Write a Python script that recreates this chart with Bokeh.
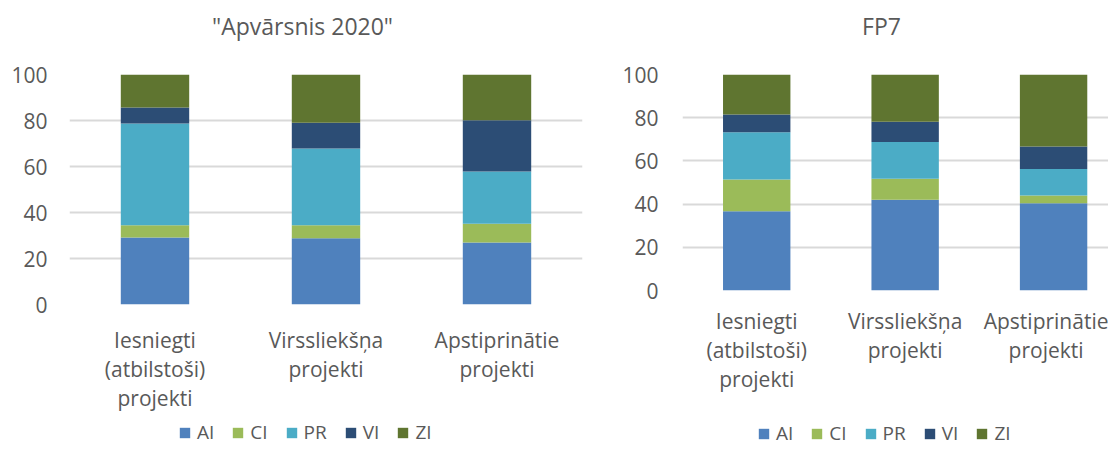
from bokeh.plotting import figure
from bokeh.models import ColumnDataSource, Range1d, FixedTicker, Label, Legend, LegendItem
from bokeh.layouts import row, column
from bokeh.embed import file_html
from bokeh.resources import INLINE

categories = ["Iesniegti\n(atbilstoši)\nprojekti", "Virssliekšņa\nprojekti", "Apstiprinātie\nprojekti"]
series = ["AI", "CI", "PR", "VI", "ZI"]
colors = ["#4F81BD", "#9BBB59", "#4BACC6", "#2C4D75", "#5F7530"]

h2020_AI = [29.1, 28.8, 27.0]
h2020_CI = [5.4, 5.7, 8.1]
h2020_PR = [44.2, 33.3, 22.7]
h2020_VI = [6.9, 11.2, 22.3]
h2020_ZI = [14.4, 21.0, 19.9]

fp7_AI = [36.7, 42.0, 40.4]
fp7_CI = [14.7, 9.7, 3.6]
fp7_PR = [21.9, 17.1, 12.3]
fp7_VI = [8.2, 9.3, 10.4]
fp7_ZI = [18.5, 21.9, 33.3]

y_ticks = [0, 20, 40, 60, 80, 100]

FONT = "Open Sans"
TXT = "#595959"


def blank(width, height, bl, br):
    # frame borders match the chart below (column layouts align them)
    q = figure(width=width, height=height, x_range=Range1d(bl, width - br), y_range=Range1d(0, height),
               x_axis_type=None, y_axis_type=None, min_border_left=bl, min_border_right=br,
               min_border_top=0, min_border_bottom=0,
               output_backend="svg", toolbar_location=None, outline_line_color=None)
    q.grid.visible = False
    return q


def make_title(text, width, height, bl, br, cx):
    q = blank(width, height, bl, br)
    q.add_layout(Label(x=cx, y=height / 2, text=text, text_font=FONT, text_font_size="23px",
                       text_color=TXT, text_align="center", text_baseline="middle"))
    return q


def make_main(vals, width, height, bl, br, bt, bb, xr, bw, y_standoff, x_standoff):
    p = figure(width=width, height=height, x_range=Range1d(*xr), y_range=Range1d(0, 100),
               min_border_left=bl, min_border_right=br, min_border_top=bt, min_border_bottom=bb,
               output_backend="svg", toolbar_location=None, outline_line_color=None)
    data = {"x": list(range(len(categories)))}
    for s, v in zip(series, vals):
        data[s] = v
    src = ColumnDataSource(data)
    p.vbar_stack(series, x="x", width=bw, color=colors, line_color=None, source=src)

    p.xgrid.grid_line_color = None
    p.ygrid.grid_line_color = "#d9d9d9"
    p.ygrid.grid_line_width = 2
    p.ygrid.ticker = FixedTicker(ticks=y_ticks)

    ya = p.yaxis[0]
    ya.ticker = FixedTicker(ticks=y_ticks)
    ya.axis_line_color = None
    ya.major_tick_line_color = None
    ya.minor_tick_line_color = None
    ya.major_label_standoff = y_standoff
    ya.major_label_text_font = FONT
    ya.major_label_text_font_size = "21px"
    ya.major_label_text_color = TXT

    xa = p.xaxis[0]
    xa.ticker = FixedTicker(ticks=list(range(len(categories))))
    xa.major_label_overrides = {i: c for i, c in enumerate(categories)}
    xa.axis_line_color = None
    xa.major_tick_line_color = None
    xa.minor_tick_line_color = None
    xa.major_label_standoff = x_standoff
    xa.major_label_text_font = FONT
    xa.major_label_text_font_size = "21px"
    xa.major_label_text_color = TXT
    xa.major_label_text_line_height = 1.04
    return p


def make_legend(width, height, bl, br, lx, ly):
    q = blank(width, height, bl, br)
    rs = [q.vbar(x=[-1000], top=[-1000], width=1, color=c, line_color=None) for c in colors]
    items = [LegendItem(label=s, renderers=[r]) for s, r in zip(series, rs)]
    leg = Legend(items=items, orientation="horizontal", location=(lx, ly),
                 glyph_width=13, glyph_height=13, label_standoff=6, spacing=17, label_width=10,
                 padding=0, margin=0, border_line_color=None, background_fill_alpha=0,
                 label_text_font=FONT, label_text_font_size="19px", label_text_color=TXT)
    q.add_layout(leg, "center")
    return q


LW, RW = 600, 508
LBL, LBR = 69, 18
RBL, RBR = 82, 0

left = column(
    make_title('"Apvārsnis 2020"', LW, 50, LBL, LBR, 302),
    make_main([h2020_AI, h2020_CI, h2020_PR, h2020_VI, h2020_ZI],
              LW, 370, LBL, LBR, 24, 116, (-0.5, 2.5), 0.4, 16, 15),
    make_legend(LW, 26, LBL, LBR, 109, 1),
)
right = column(
    make_title("FP7", RW, 50, RBL, RBR, 281),
    make_main([fp7_AI, fp7_CI, fp7_PR, fp7_VI, fp7_ZI],
              RW, 370, RBL, RBR, 24, 130, (-0.5, 2.37), 0.454, 18, 10),
    make_legend(RW, 26, RBL, RBR, 75, 0),
)

layout = row(left, right)
open("out.html", "w").write(file_html(layout, INLINE))
